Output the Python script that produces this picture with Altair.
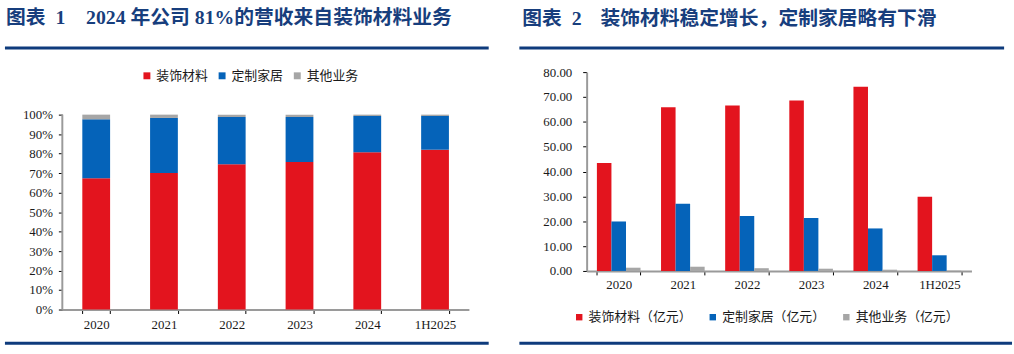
import altair as alt
import pandas as pd

# ---------------- data ----------------
years = ["2020", "2021", "2022", "2023", "2024", "1H2025"]

seg_names = ["装饰材料", "定制家居", "其他业务"]
share_deco = [67.3, 70.0, 74.6, 75.7, 80.7, 82.0]
share_home = [30.3, 28.3, 24.2, 23.1, 18.6, 17.3]
share_other = [2.4, 1.7, 1.2, 1.2, 0.7, 0.7]

rev_names = ["装饰材料（亿元）", "定制家居（亿元）", "其他业务（亿元）"]
rev_deco = [43.4, 65.9, 66.6, 68.6, 74.1, 29.9]
rev_home = [19.9, 27.0, 22.1, 21.3, 17.1, 6.3]
rev_other = [1.3, 1.7, 1.1, 0.9, 0.5, 0.15]

title1_tag = ["图表", "1"]
title1_text = "2024 年公司 81%的营收来自装饰材料业务"
title2_tag = ["图表", "2"]
title2_text = "装饰材料稳定增长，定制家居略有下滑"

pct_ticks = list(range(0, 101, 10))
val_ticks = list(range(0, 81, 10))

# ---------------- styles ----------------
colors = ["#E3141E", "#0563B9", "#A6A6A6"]
NAVY = "#173E7D"
LINE = "#0E3B7C"
SERIF = "Liberation Serif"
CJK = "Noto Sans CJK SC"
TITLE_FONT = "Liberation Serif, Noto Sans CJK SC"
LABEL_COLOR = "#1a1a1a"
AXIS_GRAY = "#9a9a9a"

left_rows = []
for i, y in enumerate(years):
    for k, (name, arr) in enumerate(zip(seg_names, [share_deco, share_home, share_other])):
        left_rows.append({"year": y, "seg": name, "pct": arr[i], "ord": k})
left_df = pd.DataFrame(left_rows)

right_rows = []
for i, y in enumerate(years):
    for k, (name, arr) in enumerate(zip(rev_names, [rev_deco, rev_home, rev_other])):
        right_rows.append({"year": y, "seg2": name, "val": arr[i], "ord": k})
right_df = pd.DataFrame(right_rows)

one = pd.DataFrame({"k": [0]})


def text_layer(txt, x, y, size=20, font=TITLE_FONT):
    return alt.Chart(one).mark_text(
        text=txt, font=font, fontSize=size, fontWeight="bold", color=NAVY,
        align="left", baseline="middle"
    ).encode(x=alt.value(x), y=alt.value(y))


def hline(x1, x2, y, color=LINE, width=3):
    return alt.Chart(one).mark_rule(color=color, strokeWidth=width).encode(
        x=alt.value(x1), x2=alt.value(x2), y=alt.value(y))


def anchor(x, y):
    return alt.Chart(one).mark_rule(color="white", strokeWidth=0.1).encode(
        x=alt.value(x), x2=alt.value(x + 1), y=alt.value(y))


# ---------------- left panel ----------------
W1, H1 = 411, 240
PLOT1 = 197  # pixel height of 0..100%
ymax1 = 100 * H1 / PLOT1

y_axis1 = alt.Axis(title=None, values=pct_ticks, labelExpr="datum.value + '%'",
                   grid=False, domain=False, tickColor="#000", tickSize=4,
                   labelFont=SERIF, labelFontSize=13, labelColor=LABEL_COLOR,
                   labelPadding=6)

bars1 = alt.Chart(left_df).mark_bar().encode(
    x=alt.X("year:N", sort=years,
            scale=alt.Scale(paddingInner=0.59, paddingOuter=0.295),
            axis=alt.Axis(title=None, labelAngle=0, tickBand="extent",
                          domainColor=AXIS_GRAY, domainWidth=2,
                          tickColor="#000", tickSize=4, tickWidth=1,
                          labelFont=SERIF, labelFontSize=13, labelColor=LABEL_COLOR,
                          labelPadding=5)),
    y=alt.Y("pct:Q", stack="zero",
            scale=alt.Scale(domain=[0, ymax1], nice=False, zero=True),
            axis=y_axis1),
    color=alt.Color("seg:N", scale=alt.Scale(domain=seg_names, range=colors),
                    legend=alt.Legend(title=None, orient="none", direction="horizontal",
                                      legendX=79, legendY=-3, symbolType="square",
                                      symbolSize=49, symbolStrokeWidth=0,
                                      labelFont=CJK, labelFontSize=13, labelColor=LABEL_COLOR,
                                      labelOffset=3, columnPadding=7)),
    order=alt.Order("ord:Q"),
)

yaxis1 = alt.Chart(one).mark_rule(color=AXIS_GRAY, strokeWidth=2).encode(
    x=alt.value(0),
    y=alt.Y(datum=0, type="quantitative", axis=y_axis1),
    y2=alt.Y2(datum=100),
)

left = alt.layer(
    bars1, yaxis1,
    text_layer(title1_tag[0], -57, -54.5),
    text_layer(title1_tag[1], -7, -54.5),
    text_layer(title1_text, 24, -54.5),
    hline(-58, 431, -24.3),
    hline(-58, 431, 274),
    anchor(-62, -70),
).properties(width=W1, height=H1)

# ---------------- right panel ----------------
W2, H2 = 389, 201

bars2 = alt.Chart(right_df).mark_bar().encode(
    x=alt.X("year:N", sort=years,
            scale=alt.Scale(paddingInner=0.32, paddingOuter=0.16),
            axis=alt.Axis(title=None, labelAngle=0, tickBand="extent",
                          domainColor=AXIS_GRAY, domainWidth=2,
                          tickColor="#000", tickSize=4, tickWidth=1,
                          labelFont=SERIF, labelFontSize=13, labelColor=LABEL_COLOR,
                          labelPadding=4)),
    xOffset=alt.XOffset("seg2:N", sort=rev_names, scale=alt.Scale(domain=rev_names)),
    y=alt.Y("val:Q", scale=alt.Scale(domain=[0, 80], nice=False),
            axis=alt.Axis(title=None, values=val_ticks, format=".2f", grid=False,
                          domainColor=AXIS_GRAY, domainWidth=2,
                          tickColor="#000", tickSize=4,
                          labelFont=SERIF, labelFontSize=13, labelColor=LABEL_COLOR,
                          labelPadding=11)),
    color=alt.Color("seg2:N", scale=alt.Scale(domain=rev_names, range=colors),
                    legend=alt.Legend(title=None, orient="none", direction="horizontal",
                                      legendX=-14, legendY=241, symbolType="square",
                                      symbolSize=42, symbolStrokeWidth=0,
                                      labelFont=CJK, labelFontSize=13, labelColor=LABEL_COLOR,
                                      labelOffset=3, columnPadding=14)),
)

right = alt.layer(
    bars2,
    text_layer(title2_tag[0], -65, -54),
    text_layer(title2_tag[1], -15, -54),
    text_layer(title2_text, 14, -54),
    hline(-68, 422, -24.3),
    hline(-68, 430, 274),
    anchor(-68, -70),
).properties(width=W2, height=H2)

chart = alt.hconcat(left, right, spacing=27).resolve_scale(
    color="independent"
).resolve_legend(color="independent").properties(
    padding={"left": 0, "top": 0, "right": 0, "bottom": 0},
    background="white",
).configure_view(stroke=None)

chart.save("out.html", embed_options={"renderer": "svg", "actions": False})
